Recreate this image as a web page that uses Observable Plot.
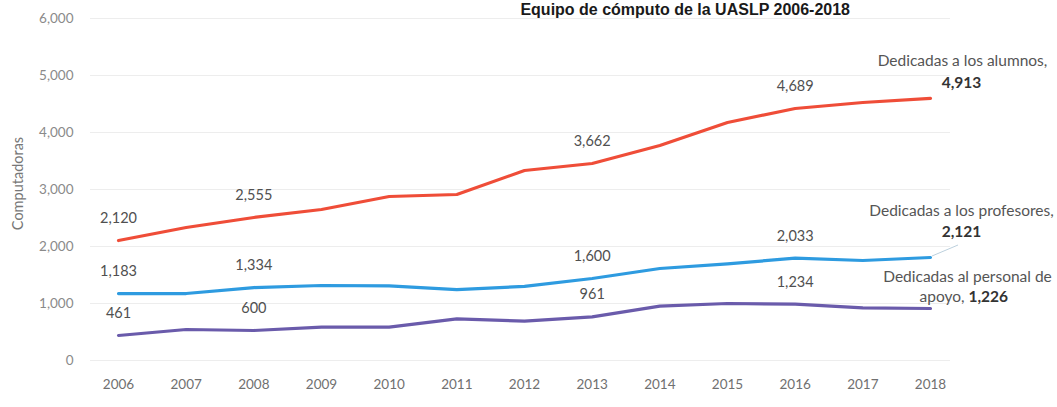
<!DOCTYPE html>
<html>
<head>
<meta charset="utf-8">
<script src="https://cdn.jsdelivr.net/npm/d3@7"></script>
<script src="https://cdn.jsdelivr.net/npm/@observablehq/plot@0.6"></script>
<style>
  html, body { margin: 0; padding: 0; background: #fff; }
  #wrap { position: relative; width: 1057px; height: 407px; overflow: hidden; font-family: Lato, "Open Sans", sans-serif; }
  #title { position: absolute; top: 1px; right: 207px; font-size: 16px; line-height: 18px; font-weight: bold; color: #1a1a1a; white-space: nowrap; font-family: "Liberation Sans", Arial, sans-serif; }
  #chart { position: absolute; top: 0; left: 0; }
</style>
</head>
<body>
<div id="wrap">
  <div id="chart"></div>
  <div id="title">Equipo de cómputo de la UASLP 2006-2018</div>
</div>
<script>
const years = [2006, 2007, 2008, 2009, 2010, 2011, 2012, 2013, 2014, 2015, 2016, 2017, 2018];
const alumnos    = [2105, 2333, 2509, 2649, 2877, 2912, 3333, 3456, 3772, 4175, 4421, 4526, 4600];
const profesores = [1175, 1175, 1280, 1316, 1310, 1245, 1300, 1438, 1614, 1696, 1795, 1754, 1807];
const apoyo      = [439, 544, 526, 585, 585, 731, 690, 766, 953, 1000, 990, 924, 912];

const labelYears = [2006, 2008, 2013, 2016];
const alumnosLabels    = ["2,120", "2,555", "3,662", "4,689"];
const profesoresLabels = ["1,183", "1,334", "1,600", "2,033"];
const apoyoLabels      = ["461", "600", "961", "1,234"];

const yTicks = [0, 1000, 2000, 3000, 4000, 5000, 6000];

const seriesNames = ["alumnos", "profesores", "apoyo"];
const seriesValues = [alumnos, profesores, apoyo];
const colors = ["#ef4d38", "#2e9be0", "#6a5bab"];

const endName1 = ["Dedicadas a los alumnos,", "Dedicadas a los profesores,", "Dedicadas al personal de"];
const endValue = ["4,913", "2,121", "1,226"];

const rows = seriesNames.flatMap((s, i) => years.map((yr, j) => ({serie: s, year: yr, value: seriesValues[i][j]})));
const labelRows = [alumnosLabels, profesoresLabels, apoyoLabels].flatMap((labs, i) =>
  labelYears.map((yr, k) => ({serie: seriesNames[i], year: yr, value: seriesValues[i][years.indexOf(yr)], text: labs[k]})));
const last = seriesNames.map((s, i) => ({serie: s, year: years[years.length - 1], value: seriesValues[i][years.length - 1]}));

const fontFam = "Lato, 'Open Sans', sans-serif";
const endFs = 15.5;

const chart = Plot.plot({
  width: 1057,
  height: 407,
  marginLeft: 90,
  marginRight: 107,
  marginTop: 18,
  marginBottom: 47,
  style: {fontFamily: fontFam, fontSize: "13px", background: "transparent"},
  x: {domain: [2006, 2018], insetLeft: 28, insetRight: 20, label: null},
  y: {domain: [0, 6000], label: null},
  color: {domain: seriesNames, range: colors},
  marks: [
    Plot.gridY(yTicks, {stroke: "#ededed", strokeOpacity: 1}),
    Plot.axisY({ticks: yTicks, tickFormat: d3.format(","), tickSize: 0, tickPadding: 17, fill: "#8a8a8a", fontSize: 13.5, label: null}),
    Plot.axisX({ticks: years, tickFormat: d => String(d), tickSize: 0, tickPadding: 19, fill: "#707070", fontSize: 13.5, label: null}),
    Plot.text(["Computadoras"], {frameAnchor: "left", textAnchor: "middle", dx: -72, dy: -6, rotate: -90, fill: "#777", fontSize: 14.5}),
    Plot.line(rows, {x: "year", y: "value", z: "serie", stroke: "serie", strokeWidth: 3.2, strokeLinejoin: "round", strokeLinecap: "round"}),
    Plot.text(labelRows, {x: "year", y: "value", text: "text", dy: -22, fill: "#505050", fontSize: 14.5}),
    // end labels
    Plot.text([last[0]], {x: "year", y: "value", text: () => endName1[0], dx: 32, dy: -37, fill: "#555", fontSize: endFs}),
    Plot.text([last[0]], {x: "year", y: "value", text: () => endValue[0], dx: 31, dy: -15, fill: "#333", fontSize: endFs, fontWeight: "bold"}),
    Plot.text([last[1]], {x: "year", y: "value", text: () => endName1[1], dx: 31, dy: -46, fill: "#555", fontSize: endFs}),
    Plot.text([last[1]], {x: "year", y: "value", text: () => endValue[1], dx: 31, dy: -25, fill: "#333", fontSize: endFs, fontWeight: "bold"}),
    Plot.text([last[2]], {x: "year", y: "value", text: () => endName1[2], dx: 37, dy: -31, fill: "#555", fontSize: endFs}),
    Plot.text([last[2]], {x: "year", y: "value", text: () => "apoyo,", dx: 34, dy: -11, textAnchor: "end", fill: "#555", fontSize: endFs}),
    Plot.text([last[2]], {x: "year", y: "value", text: () => endValue[2], dx: 38, dy: -11, textAnchor: "start", fill: "#333", fontSize: endFs, fontWeight: "bold"})
  ]
});

// leader line from blue end to its label, positioned through the chart's scales
const svg = d3.select(chart);
const xs = chart.scale("x"), ys = chart.scale("y");
const bx = xs.apply(last[1].year), by = ys.apply(last[1].value);
svg.append("line").attr("x1", bx + 2).attr("y1", by - 1).attr("x2", bx + 28).attr("y2", by - 12)
  .attr("stroke", "#bcd0dd").attr("stroke-width", 1);

document.getElementById("chart").appendChild(chart);
</script>
</body>
</html>
